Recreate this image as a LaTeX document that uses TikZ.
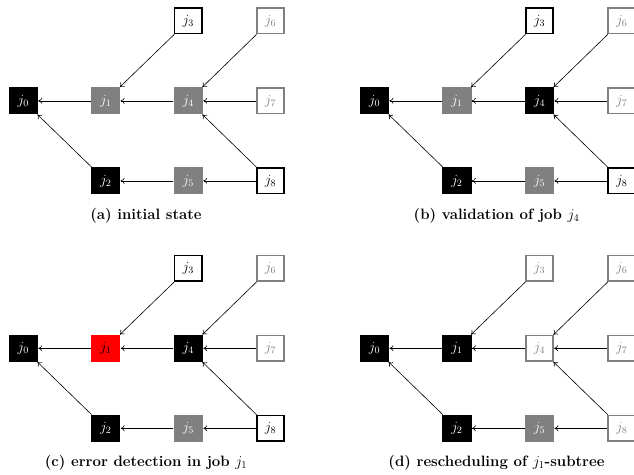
\RequirePackage{fix-cm}
\documentclass[tikz,border=0pt]{standalone}
\usetikzlibrary{arrows.meta}

\definecolor{jobgray}{RGB}{128,128,128}
\definecolor{jobred}{RGB}{255,0,0}

\tikzset{
  job/.style={rectangle, minimum width=29.5pt, minimum height=27pt,
    inner sep=0pt, font=\fontsize{14}{16}\selectfont},
  done/.style={job, fill=black, text=white},
  active/.style={job, fill=jobgray, text=white},
  failed/.style={job, fill=jobred, text=black},
  ready/.style={job, draw=black, line width=1.6pt, fill=white, text=black,
    minimum width=27.5pt, minimum height=25.5pt},
  waiting/.style={job, draw=jobgray, line width=1.6pt, fill=white, text=jobgray,
    minimum width=27.5pt, minimum height=25.5pt},
  dep/.style={-{To[length=4pt,width=6pt]}, line width=0.6pt, draw=black},
  caption/.style={anchor=base, font=\fontsize{15}{18}\selectfont\bfseries},
}

% One dependency tree; the nine arguments are the states of j0 ... j8
\newcommand{\jobtree}[9]{%
  \node[#1] (j0) at (0,0)       {$j_0$};
  \node[#2] (j1) at (82.4,0)    {$j_1$};
  \node[#3] (j2) at (82.4,80)   {$j_2$};
  \node[#4] (j3) at (165,-80)   {$j_3$};
  \node[#5] (j4) at (165,0)     {$j_4$};
  \node[#6] (j5) at (165,80)    {$j_5$};
  \node[#7] (j6) at (247.2,-80) {$j_6$};
  \node[#8] (j7) at (247.2,0)   {$j_7$};
  \node[#9] (j8) at (247.2,80)  {$j_8$};
  \draw[dep] (j1) -- (j0);
  \draw[dep] (j2) -- (j0);
  \draw[dep] (j3) -- (j1);
  \draw[dep] (j4) -- (j1);
  \draw[dep] (j5) -- (j2);
  \draw[dep] (j6) -- (j4);
  \draw[dep] (j7) -- (j4);
  \draw[dep] (j8) -- (j4);
  \draw[dep] (j8) -- (j5);
}

\begin{document}
\begin{tikzpicture}[x=1pt, y=-1pt]
  \useasboundingbox (0,0) rectangle (634,474);
  \clip (0,0) rectangle (634,474);

  % (a) initial state
  \begin{scope}[shift={(23.3,100.8)}, name prefix=a-]
    \jobtree{done}{active}{done}{ready}{active}{active}{waiting}{waiting}{ready}
  \end{scope}
  \node[caption] (capa) at (146,219) {(a) initial state};

  % (b) validation of j4
  \begin{scope}[shift={(374.5,100.8)}, name prefix=b-]
    \jobtree{done}{active}{done}{ready}{done}{active}{waiting}{waiting}{ready}
  \end{scope}
  \node[caption] (capb) at (496.5,219) {(b) validation of job $j_4$};

  % (c) error detected in j1
  \begin{scope}[shift={(23.3,348.3)}, name prefix=c-]
    \jobtree{done}{failed}{done}{ready}{done}{active}{waiting}{waiting}{ready}
  \end{scope}
  \node[caption] (capc) at (146,466.5) {(c) error detection in job $j_1$};

  % (d) j1-subtree rescheduled
  \begin{scope}[shift={(374.5,348.3)}, name prefix=d-]
    \jobtree{done}{done}{done}{waiting}{waiting}{active}{waiting}{waiting}{waiting}
  \end{scope}
  \node[caption] (capd) at (496.5,466.5) {(d) rescheduling of $j_1$-subtree};
\end{tikzpicture}
\end{document}
